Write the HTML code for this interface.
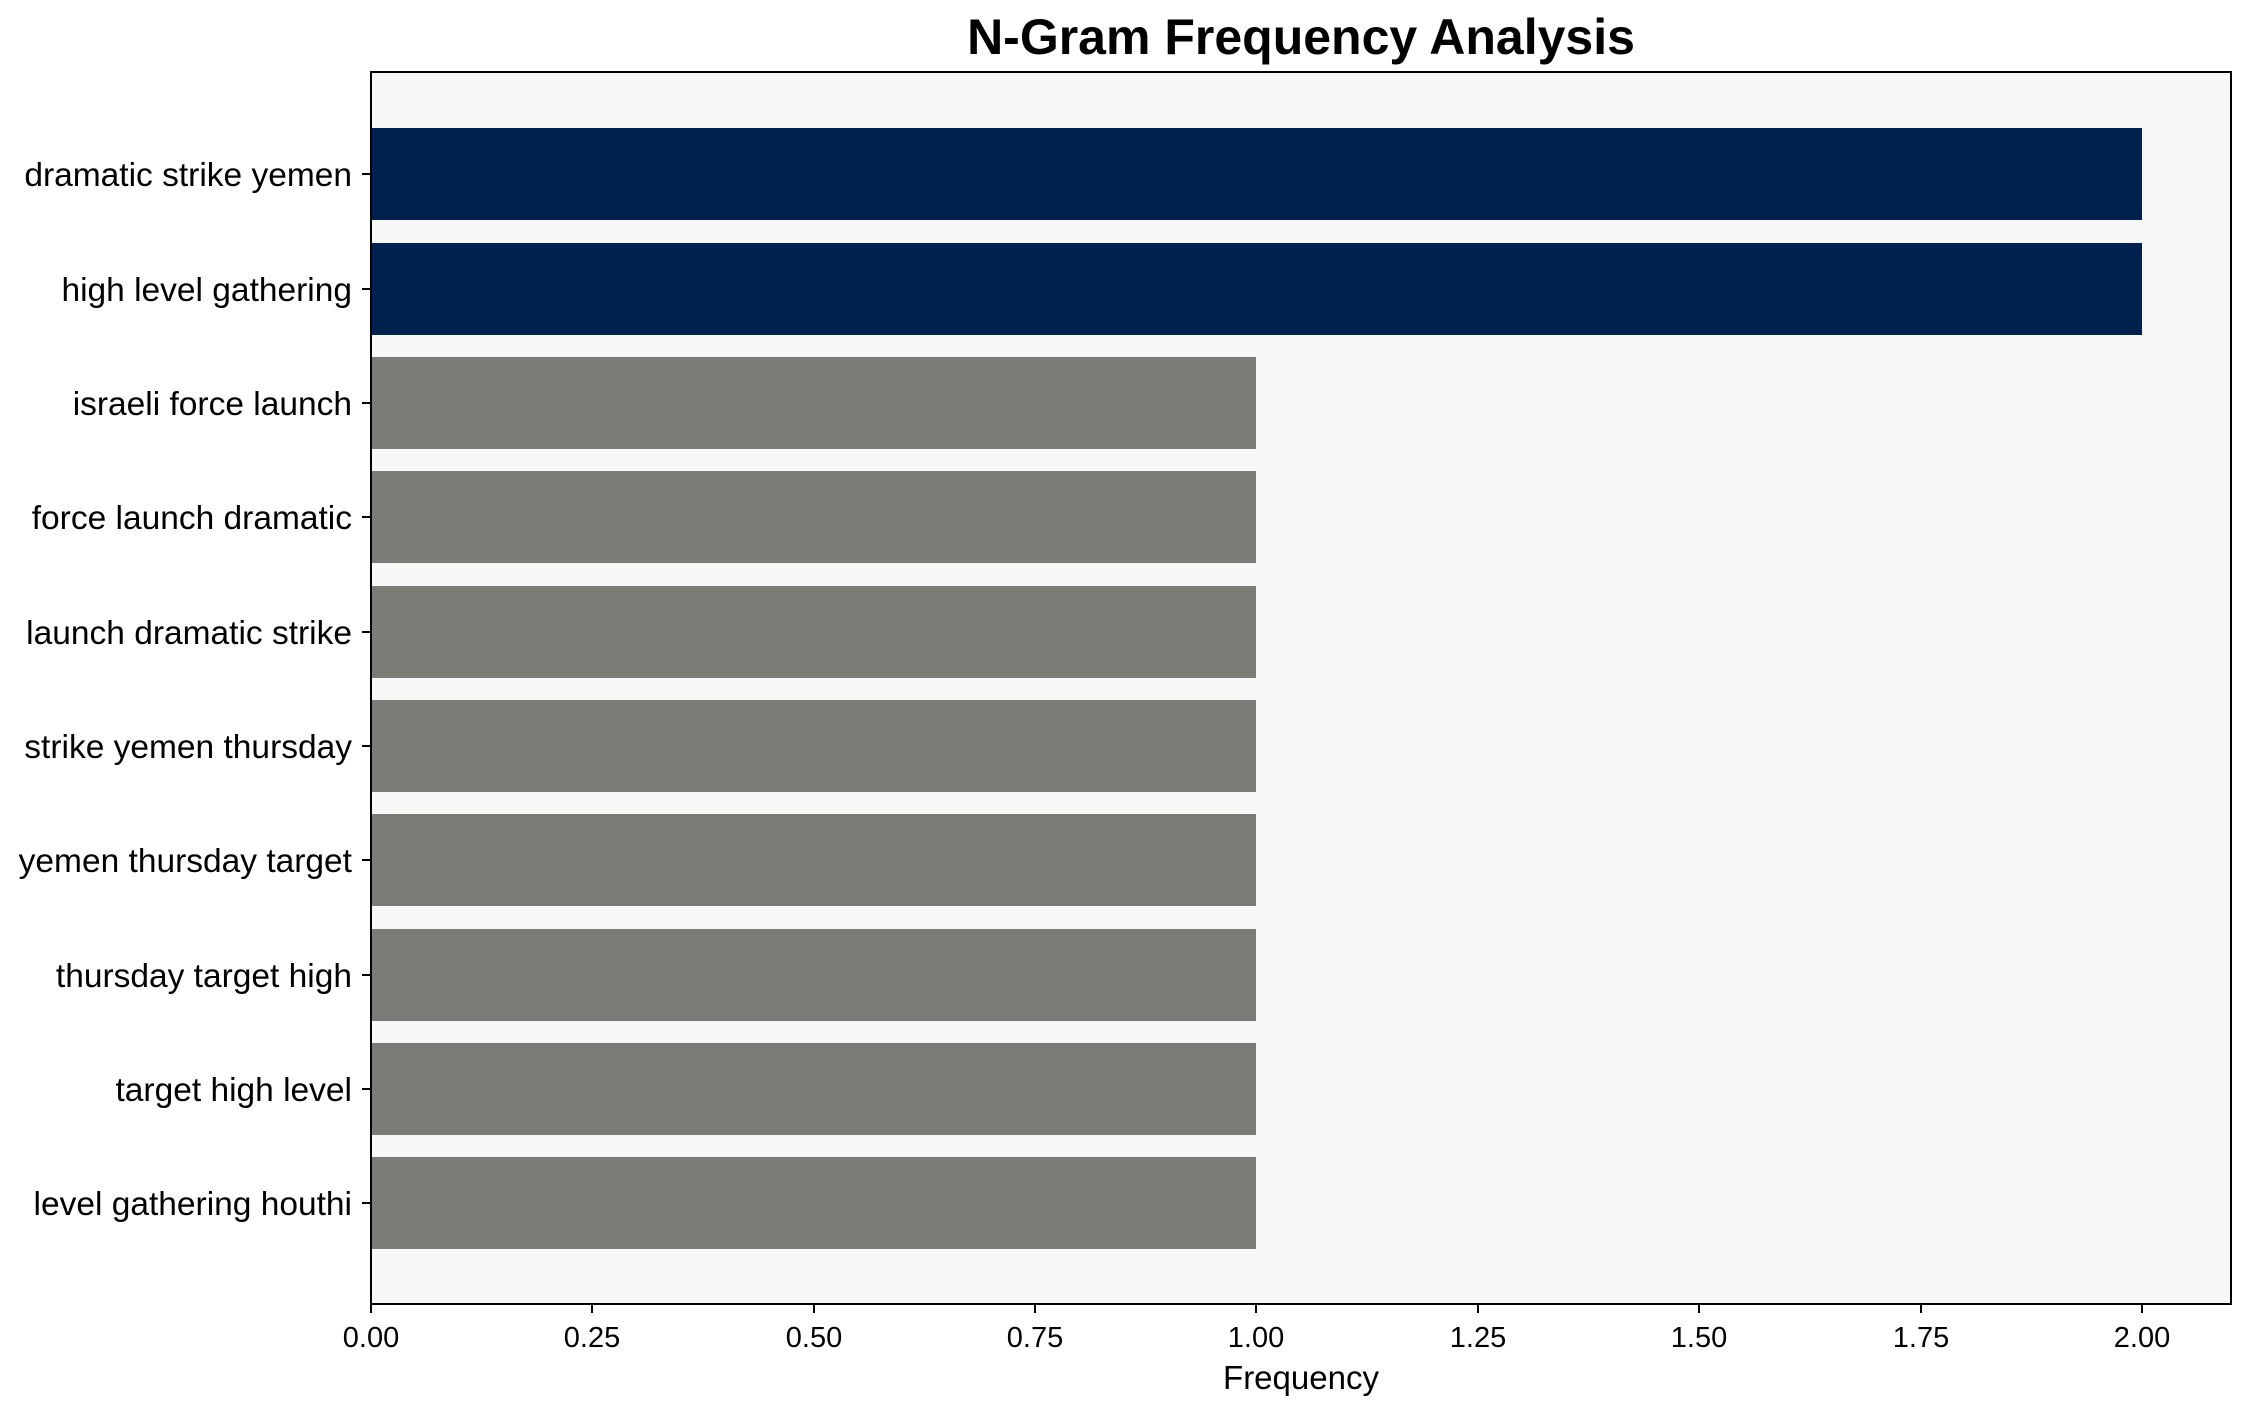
<!DOCTYPE html>
<html><head><meta charset="utf-8"><style>
html,body{margin:0;padding:0;background:#fff;}
svg{display:block;font-family:"Liberation Sans",Arial,sans-serif;}
</style></head><body>
<svg width="2251" height="1414" viewBox="0 0 2251 1414" xmlns="http://www.w3.org/2000/svg">
<rect width="2251" height="1414" fill="#fff"/>
<text x="1301" y="54" text-anchor="middle" font-size="50" font-weight="bold" fill="#000">N-Gram Frequency Analysis</text>
<rect x="371" y="72" width="1860" height="1232" fill="#f7f7f7"/>
<g>
<rect x="371" y="128" width="1771" height="92" fill="#00214d"/>
<rect x="371" y="243" width="1771" height="92" fill="#00214d"/>
<rect x="371" y="357" width="885" height="92" fill="#7c7b78"/>
<rect x="371" y="471" width="885" height="92" fill="#7c7b78"/>
<rect x="371" y="586" width="885" height="92" fill="#7c7b78"/>
<rect x="371" y="700" width="885" height="92" fill="#7c7b78"/>
<rect x="371" y="814" width="885" height="92" fill="#7c7b78"/>
<rect x="371" y="929" width="885" height="92" fill="#7c7b78"/>
<rect x="371" y="1043" width="885" height="92" fill="#7c7b78"/>
<rect x="371" y="1157" width="885" height="92" fill="#7c7b78"/>
</g>
<rect x="371" y="72" width="1860" height="1232" fill="none" stroke="#000" stroke-width="2"/>
<g stroke="#000" stroke-width="2">
<line x1="362" y1="174" x2="371" y2="174"/><line x1="362" y1="289" x2="371" y2="289"/>
<line x1="362" y1="403" x2="371" y2="403"/><line x1="362" y1="517" x2="371" y2="517"/>
<line x1="362" y1="632" x2="371" y2="632"/><line x1="362" y1="746" x2="371" y2="746"/>
<line x1="362" y1="860" x2="371" y2="860"/><line x1="362" y1="975" x2="371" y2="975"/>
<line x1="362" y1="1089" x2="371" y2="1089"/><line x1="362" y1="1203" x2="371" y2="1203"/>
<line x1="371" y1="1304" x2="371" y2="1313"/><line x1="592" y1="1304" x2="592" y2="1313"/>
<line x1="814" y1="1304" x2="814" y2="1313"/><line x1="1035" y1="1304" x2="1035" y2="1313"/>
<line x1="1256" y1="1304" x2="1256" y2="1313"/><line x1="1478" y1="1304" x2="1478" y2="1313"/>
<line x1="1699" y1="1304" x2="1699" y2="1313"/><line x1="1921" y1="1304" x2="1921" y2="1313"/>
<line x1="2142" y1="1304" x2="2142" y2="1313"/>
</g>
<g font-size="33.5" fill="#000" text-anchor="end">
<text x="352" y="186">dramatic strike yemen</text>
<text x="352" y="301">high level gathering</text>
<text x="352" y="415">israeli force launch</text>
<text x="352" y="529">force launch dramatic</text>
<text x="352" y="644">launch dramatic strike</text>
<text x="352" y="758">strike yemen thursday</text>
<text x="352" y="872">yemen thursday target</text>
<text x="352" y="987">thursday target high</text>
<text x="352" y="1101">target high level</text>
<text x="352" y="1215">level gathering houthi</text>
</g>
<g font-size="29" fill="#000" text-anchor="middle">
<text x="371" y="1347">0.00</text><text x="592" y="1347">0.25</text>
<text x="814" y="1347">0.50</text><text x="1035" y="1347">0.75</text>
<text x="1256" y="1347">1.00</text><text x="1478" y="1347">1.25</text>
<text x="1699" y="1347">1.50</text><text x="1921" y="1347">1.75</text>
<text x="2142" y="1347">2.00</text>
</g>
<text x="1301" y="1389" text-anchor="middle" font-size="33" fill="#000">Frequency</text>
</svg>
</body></html>
